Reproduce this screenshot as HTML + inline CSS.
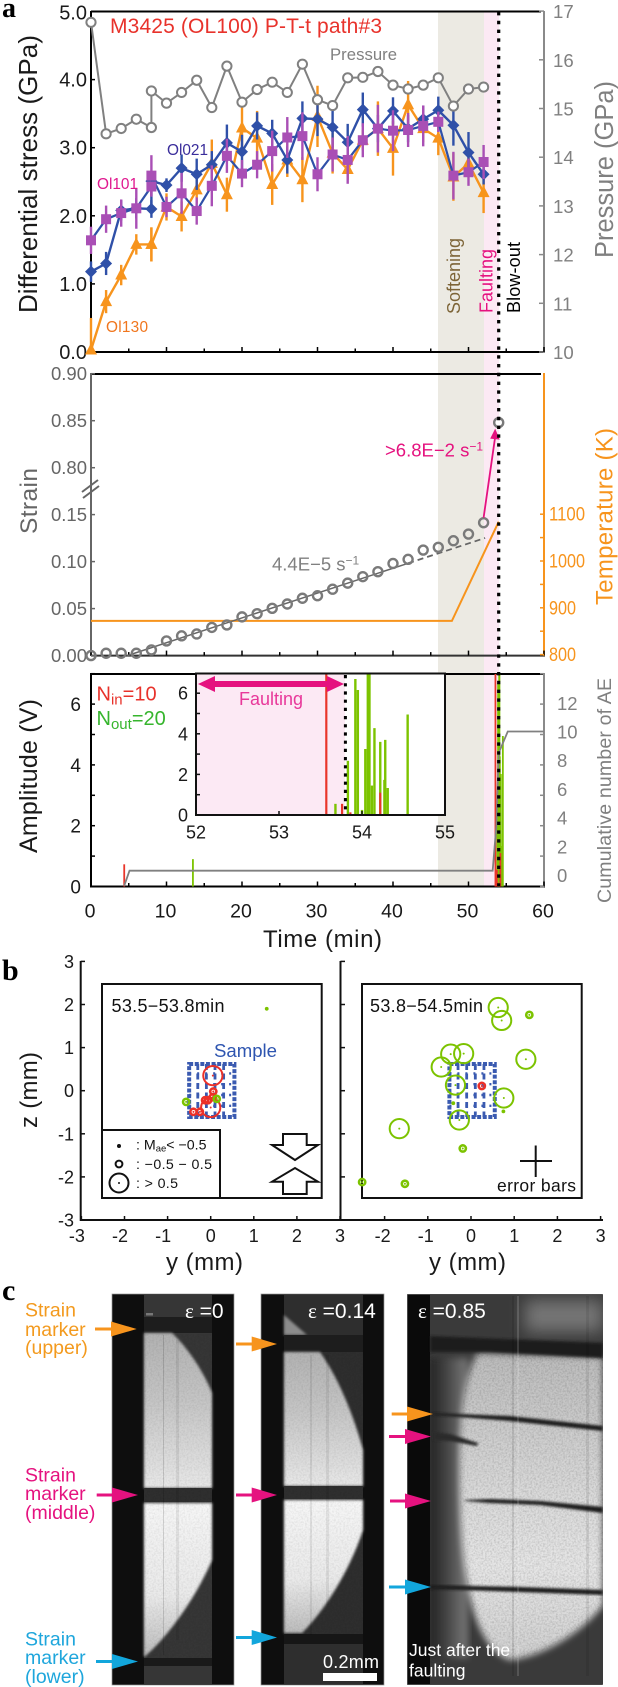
<!DOCTYPE html>
<html lang="en">
<head>
<meta charset="utf-8">
<title>M3425 P-T-t path and AE figure</title>
<style>
html,body{margin:0;padding:0;background:#fff;}
svg{display:block;font-family:"Liberation Sans",sans-serif;}
</style>
</head>
<body>
<svg id="fig" xmlns="http://www.w3.org/2000/svg" width="618" height="1687" viewBox="0 0 618 1687">
<defs>
  <linearGradient id="g1u" x1="0" y1="0" x2="0" y2="1"><stop offset="0" stop-color="#b2b2b2"/><stop offset=".45" stop-color="#c6c6c6"/><stop offset="1" stop-color="#e8e8e8"/></linearGradient>
  <linearGradient id="g1l" x1="0" y1="0" x2="0" y2="1"><stop offset="0" stop-color="#f6f6f6"/><stop offset=".6" stop-color="#eaeaea"/><stop offset="1" stop-color="#bcbcbc"/></linearGradient>
  <linearGradient id="g3" x1="0" y1="0" x2="0" y2="1"><stop offset="0" stop-color="#bcbcbc"/><stop offset=".45" stop-color="#dadada"/><stop offset=".7" stop-color="#e6e6e6"/><stop offset="1" stop-color="#d0d0d0"/></linearGradient>
  <linearGradient id="g3l" x1="0" y1="0" x2="1" y2="0"><stop offset="0" stop-color="#202020"/><stop offset=".5" stop-color="#4a4a4a"/><stop offset="1" stop-color="#7a7a7a"/></linearGradient>
  <filter id="soft" x="-10%" y="-10%" width="120%" height="120%"><feGaussianBlur stdDeviation="1.2"/></filter>
  <filter id="softer" x="-10%" y="-10%" width="120%" height="120%"><feGaussianBlur stdDeviation="3.5"/></filter>
  <filter id="softest" x="-30%" y="-60%" width="160%" height="220%"><feGaussianBlur stdDeviation="8"/></filter>
  <filter id="grain" x="0" y="0" width="100%" height="100%"><feTurbulence type="fractalNoise" baseFrequency=".55" numOctaves="2" seed="4"/><feColorMatrix type="matrix" values="0 0 0 0 0  0 0 0 0 0  0 0 0 0 0  1.5 0 0 0 -.55"/></filter>
  <clipPath id="clip-inset"><rect x="196" y="673" width="249" height="142"/></clipPath>
  <clipPath id="clip-amp"><rect x="91" y="674" width="453" height="213"/></clipPath>
  <clipPath id="clip-image-3"><rect x="407" y="1294" width="196" height="391"/></clipPath>
  <clipPath id="clip-core"><path d="M478,1353 L603,1357 L603,1605 C580,1635 540,1657 510,1660 C480,1650 462,1600 460,1500 C458,1430 462,1375 478,1353 Z"/></clipPath>
</defs>

<g id="shades">
  <rect x="438" y="11" width="46" height="875" fill="#eceae3"/>
  <rect x="484" y="11" width="15" height="875" fill="#fce9f4"/>
</g>

<!-- PANEL A -->
<g id="panel-a">
  <line x1="91" y1="11.5" x2="541" y2="11.5" stroke="#000" stroke-width="2"/>
  <line x1="91" y1="11" x2="91" y2="353" stroke="#000" stroke-width="2"/>
  <line x1="90" y1="352" x2="545" y2="352" stroke="#000" stroke-width="2"/>
  <line x1="544" y1="11" x2="544" y2="353" stroke="#8a8a8a" stroke-width="2"/>
</g>
<text x="2" y="17" font-family="Liberation Serif, serif" font-weight="bold" font-size="28">a</text>
<text x="110" y="33" font-size="21" fill="#e8322b" textLength="272">M3425 (OL100) P-T-t path#3</text>
<text x="330" y="60" font-size="16.7" fill="#808080" textLength="67">Pressure</text>
<text x="167" y="155" font-size="15.4" fill="#3a2d9b" textLength="41">Ol021</text>
<text x="97" y="189" font-size="15.4" fill="#e0188f" textLength="41">Ol101</text>
<text x="106" y="332" font-size="15.4" fill="#f0761e" textLength="42">Ol130</text>
<text transform="translate(460,314) rotate(-90)" font-size="18" fill="#7d6437" textLength="76">Softening</text>
<text transform="translate(492.5,313) rotate(-90)" font-size="18" fill="#e5127f" textLength="64">Faulting</text>
<text transform="translate(520,313) rotate(-90)" font-size="18" fill="#000" textLength="71">Blow-out</text>
<text transform="translate(37,313) rotate(-90)" font-size="26" fill="#1a1a1a" textLength="278">Differential stress (GPa)</text>
<text transform="translate(613,258) rotate(-90)" font-size="25.5" fill="#808080" textLength="177">Pressure (GPa)</text>

<!-- PANEL STRAIN -->
<g id="panel-strain">
  <line x1="91" y1="374" x2="541" y2="374" stroke="#000" stroke-width="2"/>
  <line x1="91" y1="373" x2="91" y2="656" stroke="#666" stroke-width="2"/>
  <line x1="91" y1="655.6" x2="545" y2="655.6" stroke="#333" stroke-width="2"/>
  <line x1="544" y1="373" x2="544" y2="656" stroke="#f7941d" stroke-width="2"/>
  <line x1="82" y1="492" x2="98" y2="480" stroke="#666" stroke-width="2"/>
  <line x1="83" y1="498" x2="99" y2="486" stroke="#666" stroke-width="2"/>
</g>
<text transform="translate(37,534) rotate(-90)" font-size="24.5" fill="#666" textLength="66">Strain</text>
<text transform="translate(612.5,605) rotate(-90)" font-size="24" fill="#f7941d" textLength="177">Temperature (K)</text>
<text x="385" y="456.5" font-size="18.5" fill="#e5127f">&gt;6.8E−2 s<tspan font-size="12" dy="-6">−1</tspan></text>
<text x="272" y="570.5" font-size="18.5" fill="#808080">4.4E−5 s<tspan font-size="12" dy="-6">−1</tspan></text>

<!-- PANEL AMPLITUDE -->
<g id="panel-amp">
  <line x1="91" y1="674" x2="544" y2="674" stroke="#000" stroke-width="2"/>
  <line x1="91" y1="673" x2="91" y2="887" stroke="#000" stroke-width="2"/>
  <line x1="90" y1="886.5" x2="545" y2="886.5" stroke="#000" stroke-width="2"/>
  <line x1="544" y1="673" x2="544" y2="887" stroke="#8a8a8a" stroke-width="2"/>
</g>
<g id="panel-inset">
  <rect x="196" y="674" width="249" height="141" fill="#fff"/>
  <rect x="197" y="674" width="148" height="141" fill="#fce9f4"/>
</g>
<rect x="196" y="673.5" width="249" height="141.5" fill="none" stroke="#111" stroke-width="2"/>
<g>
  <path d="M198,684 L215,676 L215,681 L327,681 L327,676 L344,684 L327,692 L327,687 L215,687 L215,692 Z" fill="#e5127f"/>
</g>
<text x="239" y="705" font-size="18" fill="#e8389a" textLength="64">Faulting</text>
<text x="96.5" y="700.5" font-size="20" fill="#e8322b">N<tspan font-size="15" dy="4">in</tspan><tspan dy="-4">=10</tspan></text>
<text x="96.5" y="725" font-size="20" fill="#36b52d">N<tspan font-size="15" dy="4">out</tspan><tspan dy="-4">=20</tspan></text>
<text transform="translate(37,853) rotate(-90)" font-size="25" fill="#1a1a1a" textLength="154">Amplitude (V)</text>
<text transform="translate(611,903) rotate(-90)" font-size="19.5" fill="#808080" textLength="225">Cumulative number of AE</text>
<text x="263" y="947" font-size="24" fill="#1a1a1a" textLength="119">Time (min)</text>

<line x1="498.7" y1="12" x2="498.7" y2="886" stroke="#000" stroke-width="3.2" stroke-dasharray="3.4 5.4"/>

<!-- PANEL B -->
<text x="2" y="980" font-family="Liberation Serif, serif" font-weight="bold" font-size="30">b</text>
<g id="panel-b">
  <line x1="80.7" y1="961" x2="80.7" y2="1221" stroke="#111" stroke-width="2"/>
  <line x1="80" y1="1220" x2="341" y2="1220" stroke="#111" stroke-width="2"/>
  <line x1="340.5" y1="961" x2="340.5" y2="1221" stroke="#111" stroke-width="2"/>
  <line x1="340" y1="1220" x2="603" y2="1220" stroke="#111" stroke-width="2"/>
  <rect x="102" y="984" width="219.7" height="214" fill="none" stroke="#111" stroke-width="2"/>
  <rect x="362" y="984" width="219.7" height="214" fill="none" stroke="#111" stroke-width="2"/>
  <rect x="102" y="1130" width="118" height="68" fill="#fff" stroke="#111" stroke-width="2"/>
</g>
<g id="sample-left"></g>
<g id="sample-right"></g>
<g id="events-left"></g>
<g id="events-right"></g>
<g>
  <circle cx="119" cy="1146" r="2" fill="#111"/>
  <circle cx="119" cy="1164" r="3.4" fill="none" stroke="#111" stroke-width="2"/>
  <circle cx="119" cy="1183" r="9.5" fill="none" stroke="#111" stroke-width="2"/>
  <circle cx="119" cy="1183" r="1" fill="#111"/>
  <text x="136" y="1149.5" font-size="14.2" fill="#111">: M<tspan font-size="9.5" dy="2">ae</tspan><tspan dy="-2">&lt; −0.5</tspan></text>
  <text x="136" y="1169" font-size="14.2" fill="#111" textLength="76">: −0.5 − 0.5</text>
  <text x="136" y="1188" font-size="14.2" fill="#111" textLength="42">: &gt; 0.5</text>
</g>
<text x="111.5" y="1012" font-size="18" fill="#111" textLength="113">53.5−53.8min</text>
<text x="370" y="1012" font-size="18" fill="#111" textLength="113">53.8−54.5min</text>
<text x="214" y="1057" font-size="18.6" fill="#2e55b0" textLength="63">Sample</text>
<path d="M283,1134 L306.7,1134 L306.7,1145 L318,1145 L295,1160 L272,1145 L283,1145 Z" fill="#fff" stroke="#111" stroke-width="2"/>
<path d="M283,1194 L306.7,1194 L306.7,1181.7 L318,1181.7 L295,1168 L272,1181.7 L283,1181.7 Z" fill="#fff" stroke="#111" stroke-width="2"/>
<line x1="520" y1="1161" x2="552" y2="1161" stroke="#111" stroke-width="2"/>
<line x1="535.7" y1="1145.5" x2="535.7" y2="1177" stroke="#111" stroke-width="2"/>
<text x="497" y="1191.5" font-size="17.5" fill="#111" textLength="79">error bars</text>
<text transform="translate(37,1128) rotate(-90)" font-size="24" fill="#1a1a1a" textLength="76">z (mm)</text>
<text x="166" y="1270" font-size="24" fill="#1a1a1a" textLength="77">y (mm)</text>
<text x="429" y="1270" font-size="24" fill="#1a1a1a" textLength="77">y (mm)</text>

<!-- PANEL C -->
<text x="2" y="1300" font-family="Liberation Serif, serif" font-weight="bold" font-size="30">c</text>

<g>
  <rect x="112" y="1294" width="122" height="391" fill="#0e0e0e" stroke="#999" stroke-width=".7"/>
  <rect x="144" y="1295" width="68" height="389" fill="#363636"/>
  <rect x="144" y="1317" width="68" height="16" fill="#1d1d1d"/>
  <path filter="url(#soft)" d="M144,1333 L172,1333 C190,1350 205,1375 212,1393 L212,1488 L144,1488 Z" fill="url(#g1u)"/>
  <path filter="url(#soft)" d="M144,1503 L212,1503 L212,1560 C195,1600 165,1640 144,1657 Z" fill="url(#g1l)"/>
  <rect x="144" y="1488" width="68" height="14" fill="#2f2f2f"/>
  <rect x="144" y="1658" width="68" height="8" fill="#1a1a1a"/>
  <rect x="163" y="1335" width="1" height="320" fill="#000" opacity=".14"/>
  <rect x="176" y="1340" width="3" height="300" fill="#000" opacity=".07"/>
  <rect x="146" y="1313" width="7" height="2.5" fill="#777"/>
</g>
<g>
  <rect x="261" y="1294" width="123" height="391" fill="#0e0e0e" stroke="#999" stroke-width=".7"/>
  <rect x="284" y="1295" width="79" height="389" fill="#2e2e2e"/>
  <path filter="url(#soft)" d="M284,1315 L307,1335 L284,1335 Z" fill="#8c8c8c"/>
  <rect x="284" y="1335" width="79" height="17" fill="#1d1d1d"/>
  <path filter="url(#soft)" d="M284,1352 L320,1352 C340,1380 355,1420 363,1450 L363,1486 L284,1486 Z" fill="url(#g1u)"/>
  <path filter="url(#soft)" d="M284,1500 L363,1500 L363,1530 C350,1570 325,1610 302,1633 L284,1633 Z" fill="url(#g1l)"/>
  <rect x="284" y="1486" width="79" height="13" fill="#2f2f2f"/>
  <rect x="284" y="1634" width="79" height="10" fill="#161616"/>
  <rect x="310" y="1355" width="2" height="280" fill="#000" opacity=".08"/>
  <rect x="326" y="1355" width="3" height="250" fill="#000" opacity=".07"/>
</g>
<g clip-path="url(#clip-image-3)">
  <rect x="407" y="1294" width="196" height="391" fill="#1a1a1a" stroke="#999" stroke-width=".7"/>
  <rect x="430" y="1295" width="173" height="389" fill="#3a3a3a"/>
  <rect filter="url(#softest)" x="525" y="1300" width="78" height="32" fill="#747474"/>
  <rect filter="url(#softer)" x="430" y="1358" width="38" height="300" fill="url(#g3l)"/>
  <path filter="url(#softer)" d="M478,1353 L603,1357 L603,1605 C580,1635 540,1657 510,1660 C480,1650 462,1600 460,1500 C458,1430 462,1375 478,1353 Z" fill="url(#g3)"/>
  <rect x="408" y="1295" width="22" height="389" fill="#0a0a0a"/>
  <path filter="url(#soft)" d="M430,1336 L603,1343 L603,1358 L490,1352 L430,1352 Z" fill="#1e1e1e"/>
  <path filter="url(#soft)" d="M433,1413 L510,1416 L603,1426 L603,1431 L510,1421 L433,1415 Z" fill="#1a1a1a"/>
  <path filter="url(#soft)" d="M433,1432 L450,1434 L478,1443 L477,1446 L450,1441 L433,1440 Z" fill="#2a2a2a"/>
  <path filter="url(#soft)" d="M465,1500 L490,1499 L540,1501 L603,1507 L603,1513 L540,1505 L490,1503 L465,1501 Z" fill="#1a1a1a"/>
  <path filter="url(#soft)" d="M430,1585 L520,1587 L603,1590 L603,1595 L520,1592 L430,1589 Z" fill="#1a1a1a"/>
  <rect x="517" y="1296" width="2" height="380" fill="#fff" opacity=".14"/>
  <rect x="512" y="1296" width="2" height="380" fill="#000" opacity=".1"/>
  <rect x="586" y="1296" width="3" height="380" fill="#000" opacity=".08"/>
</g>
<rect x="144" y="1334" width="68" height="324" filter="url(#grain)" opacity=".1"/>
<rect x="284" y="1352" width="79" height="282" filter="url(#grain)" opacity=".1"/>
<g clip-path="url(#clip-core)">
  <rect x="455" y="1352" width="148" height="310" filter="url(#grain)" opacity=".2"/>
</g>

<g>
  <text font-size="19.5" fill="#f39a1e"><tspan x="25" y="1316.5">Strain</tspan><tspan x="25" y="1336">marker</tspan><tspan x="25" y="1354">(upper)</tspan></text>
  <text font-size="19.5" fill="#e5127f"><tspan x="25" y="1481.5">Strain</tspan><tspan x="25" y="1500">marker</tspan><tspan x="25" y="1519">(middle)</tspan></text>
  <text font-size="19.5" fill="#1ea6dc"><tspan x="25" y="1645.5">Strain</tspan><tspan x="25" y="1664">marker</tspan><tspan x="25" y="1683">(lower)</tspan></text>
</g>
<g>
  <path d="M95,1327.5 H111 V1321.5 L136.7,1329 L111,1336.5 V1330.5 H95 Z" fill="#f7941d"/>
  <path d="M96.7,1493.5 H112 V1487.5 L138,1495 L112,1502.5 V1496.5 H96.7 Z" fill="#e5127f"/>
  <path d="M96,1660 H112 V1654 L138,1661.5 L112,1669 V1663 H96 Z" fill="#12a6dc"/>
  <path d="M236,1342.5 H251.7 V1336.5 L277,1344 L251.7,1351.5 V1345.5 H236 Z" fill="#f7941d"/>
  <path d="M236,1493.5 H251.7 V1487.5 L277,1495 L251.7,1502.5 V1496.5 H236 Z" fill="#e5127f"/>
  <path d="M236,1636 H251.7 V1630 L277,1637.5 L251.7,1645 V1639 H236 Z" fill="#12a6dc"/>
  <path d="M391.7,1412.5 H407 V1406.5 L433,1414 L407,1421.5 V1415.5 H391.7 Z" fill="#f7941d"/>
  <path d="M389,1435 H405 V1429 L431,1436.5 L405,1444 V1438 H389 Z" fill="#e5127f"/>
  <path d="M390,1499.5 H405 V1493.5 L431,1501 L405,1508.5 V1502.5 H390 Z" fill="#e5127f"/>
  <path d="M389,1585.5 H405 V1579.5 L431,1587 L405,1594.5 V1588.5 H389 Z" fill="#12a6dc"/>
</g>
<text x="185" y="1318" font-size="21" fill="#fff"><tspan font-family="Liberation Serif, serif">ε</tspan> =0</text>
<text x="308" y="1318" font-size="21" fill="#fff"><tspan font-family="Liberation Serif, serif">ε</tspan> =0.14</text>
<text x="418" y="1318" font-size="21" fill="#fff"><tspan font-family="Liberation Serif, serif">ε</tspan> =0.85</text>
<text x="323" y="1668" font-size="18" fill="#fff" textLength="56">0.2mm</text>
<rect x="323" y="1673" width="54" height="8" fill="#fff"/>
<text font-size="17.5" fill="#fff"><tspan x="409" y="1656">Just after the</tspan><tspan x="409" y="1676.5">faulting</tspan></text>

<script>
// ---------- Panel a data ----------
const times = [0,2,4,6,8,8,10,12,14,16,18,20,22,24,26,28,30,32,34,36,38,40,42,44,46,48,50,52];
const stressOl021 = [1.18,1.30,2.08,2.11,2.10,2.51,2.45,2.70,2.61,2.75,3.07,2.94,3.32,3.21,2.82,3.43,3.42,3.30,3.08,3.56,3.28,3.54,3.28,3.42,3.55,3.33,2.93,2.61];
const errOl021 = [.15,.17,.15,.15,.13,.1,.1,.2,.23,.2,.27,.25,.2,.2,.2,.25,.25,.3,.27,.25,.2,.2,.2,.2,.2,.3,.3,.15];
const stressOl130 = [.03,.74,1.13,1.58,1.58,1.58,2.13,1.99,2.38,2.77,2.31,3.29,3.14,2.46,2.82,2.53,3.46,2.92,2.68,3.11,3.28,2.99,3.63,3.28,3.14,2.57,2.77,2.34];
const errOl130 = [.47,.17,.15,.15,.25,.25,.2,.22,.2,.35,.25,.35,.4,.3,.25,.33,.45,.3,.15,.15,.4,.4,.35,.2,.25,.35,.15,.3];
const stressOl101 = [1.64,1.95,2.04,2.11,2.43,2.59,2.13,2.33,2.07,2.44,2.88,2.62,2.75,2.95,3.15,3.17,2.61,2.90,2.82,3.11,3.28,3.25,3.26,3.32,3.38,2.59,2.64,2.79];
const errOl101 = [.2,.2,.2,.3,.15,.3,.15,.3,.2,.3,.25,.2,.2,.3,.3,.35,.25,.25,.35,.25,.35,.3,.25,.3,.15,.35,.2,.25];
const pressure = [16.77,14.48,14.59,14.78,14.61,15.36,15.11,15.33,15.58,15.02,15.87,15.13,15.39,15.54,15.33,15.91,15.18,15.06,15.63,15.64,15.76,15.48,15.40,15.48,15.63,15.05,15.40,15.44];
const stressTicks = ['0.0','1.0','2.0','3.0','4.0','5.0'];
const pressureTicks = ['10','11','12','13','14','15','16','17'];
const timeTicks = [0,5,10,15,20,25,30,35,40,45,50,55,60];
const timeTickLabels = ['0','10','20','30','40','50','60'];

// ---------- Strain panel data ----------
const strainTimes = [0,2,4,6,8,10,12,14,16,18,20,22,24,26,28,30,32,34,36,38,40,42,44,46,48,50,52,54];
const strainValues = [0,.0025,.0025,.0025,.006,.0156,.021,.023,.030,.0326,.0412,.0446,.0503,.0549,.061,.0637,.0706,.0771,.084,.0893,.098,.1024,.1123,.1152,.1222,.1293,.1414,.848];
const fitRatePerSecond = [4.4e-5];
const fitStartMin = [4.8];
const fitSolidEndMin = [42];
const fitDashEndMin = [52.2];
const strainTicks = ['0.00','0.05','0.10','0.15','0.80','0.85','0.90'];
const tempTimes = [0,47.8,54];
const tempValues = [872,872,1084];
const tempTickValues = [800,850,900,950,1000,1050,1100];
const tempTickLabels = ['800','900','1000','1100'];

// ---------- AE data ----------
const redEventTimes = [4.4,53.57,53.76,53.86,54.22];
const redEventAmps = [.73,7,.55,.13,1.1];
const greenEventTimes = [13.5,53.68,53.83,53.92,53.95,54.0,54.04,54.07,54.09,54.12,54.15,54.22,54.27,54.28,54.31,54.55];
const greenEventAmps = [.9,.55,2.67,6.7,6.16,.25,3.25,7,7,1.45,4.28,3.6,1.73,3.7,1.33,4.95];
const cumTimes = [4.4,5.1,53.2,53.7,54.0,55.2,60];
const cumCounts = [-.75,.3,.3,3.5,8.5,10,10];
const ampTickLabels = ['0','2','4','6'];
const cumTickLabels = ['0','2','4','6','8','10','12'];
const insetTimeLabels = ['52','53','54','55'];

// ---------- Location data (y mm, z mm, magnitude class) ----------
const leftEventY = [.05,0,.06,-.06,-.13,-.4,-.25,.05,-.57,.14,1.3];
const leftEventZ = [.35,-.39,-.02,-.22,-.22,-.49,-.49,-.15,-.26,-.19,1.9];
const leftEventClass = [2,2,1,1,1,1,1,1,1,1,0];
const leftEventColor = ['r','r','r','r','r','r','r','r','g','g','g'];
const rightEventY = [.63,.71,-.47,-.17,-.69,1.27,-.36,.76,-.27,-1.66,1.35,-.19,-2.52,-1.53,.75,-.41,.25];
const rightEventZ = [1.93,1.63,.85,.86,.55,.73,.13,-.17,-.68,-.88,1.76,-1.34,-2.12,-2.16,-.48,-.29,.11];
const rightEventClass = [2,2,2,2,2,2,2,2,2,2,1,1,1,1,0,0,1];
const rightEventColor = ['g','g','g','g','g','g','g','g','g','g','g','g','g','g','g','g','r'];
const locationTicks = [-3,-2,-1,0,1,2,3];
const sampleYRange = [-.5,.55];
const sampleZRange = [-.61,.62];
const sampleColumns = [-.3,-.1,.1,.3];
const sampleRows = [-.35,-.1,.15,.4];

// ---------- Scales ----------
const xT = t => 91 + t * 7.55;
const yS = s => 352 - s * 68.1;
const yP = p => 352 - (p - 10) * 48.7;
const yStrain = v => v <= 0.15 ? 655.6 - v * 940 : 467.7 - (v - 0.8) * 940;
const yTemp = k => 654.6 - (k - 800) * 0.468;
const yAmp = v => 886.5 - v * 30.4;
const yCum = n => 875 - n * 14.35;
const xIn = t => 196 + (t - 52) * 83;
const yIn = v => 815 - v * 20.3;
const xBL = v => 210.7 + v * 43.1;
const xBR = v => 471 + v * 43.2;
const yB = v => 1090.7 - v * 43.1;

const NS = 'http://www.w3.org/2000/svg';
function mk(parent, tag, attrs, txt) {
  const el = document.createElementNS(NS, tag);
  for (const k in attrs) el.setAttribute(k, attrs[k]);
  if (txt !== undefined) el.textContent = txt;
  parent.appendChild(el);
  return el;
}
const panelA = document.getElementById('panel-a');
const panelS = document.getElementById('panel-strain');
const panelAmp = document.getElementById('panel-amp');
const panelIn = document.getElementById('panel-inset');
const panelB = document.getElementById('panel-b');

// ---------- Panel a axes ----------
stressTicks.forEach((lab, i) => {
  const y = yS(Number(lab));
  let el = mk(panelA, 'line', {x1: 91, y1: y, x2: 95, y2: y, stroke: '#000', 'stroke-width': 1.5});
  
  
  el = mk(panelA, 'text', {x: 87, y: y + (i === 5 ? 8 : 7), 'text-anchor': 'end', 'font-size': 20, fill: '#1a1a1a'}, lab);
  
  
});
pressureTicks.forEach(lab => {
  const y = yP(Number(lab));
  let el = mk(panelA, 'line', {x1: 539, y1: y, x2: 544, y2: y, stroke: '#8a8a8a', 'stroke-width': 1.5});
  
  
  el = mk(panelA, 'text', {x: 553, y: y + 7, 'font-size': 18.6, fill: '#808080'}, lab);
  
  
});
[[panelA, 352], [panelS, 655.6], [panelAmp, 886.5]].forEach(pair => {
  timeTicks.forEach(t => {
    const el = mk(pair[0], 'line', {x1: xT(t), y1: pair[1], x2: xT(t), y2: pair[1] - (t % 10 === 0 ? 5 : 3.5), stroke: '#000', 'stroke-width': 1.5});
    
    
  });
});
timeTickLabels.forEach(lab => {
  const el = mk(panelAmp, 'text', {x: xT(Number(lab)) - 1, y: 917.5, 'text-anchor': 'middle', 'font-size': 19.5, fill: '#1a1a1a'}, lab);
  
  
});

// ---------- Panel a series ----------
function series(vals, errs, color, lw, name) {
  const g = mk(panelA, 'g', {});
  
  
  vals.forEach((v, i) => {
    const top = Math.max(0, v - errs[i]);
    const e = mk(g, 'line', {x1: xT(times[i]), x2: xT(times[i]), y1: yS(top), y2: yS(v + errs[i]), stroke: color, 'stroke-width': 2.4});
    
    
  });
  const p = mk(g, 'polyline', {points: vals.map((v, i) => xT(times[i]) + ',' + yS(v)).join(' '), fill: 'none', stroke: color, 'stroke-width': lw});
  
  
  return g;
}
const gOrange = series(stressOl130, errOl130, '#f7941d', 2.4, 'ol130');
stressOl130.forEach((v, i) => {
  const x = xT(times[i]), y = yS(v);
  const m = mk(gOrange, 'polygon', {points: `${x},${y - 7} ${x + 6},${y + 4.5} ${x - 6},${y + 4.5}`, fill: '#f7941d'});
  
  
});
const gBlue = series(stressOl021, errOl021, '#2f50a8', 2.4, 'ol021');
stressOl021.forEach((v, i) => {
  const x = xT(times[i]), y = yS(v);
  const m = mk(gBlue, 'polygon', {points: `${x},${y - 6} ${x + 6},${y} ${x},${y + 6} ${x - 6},${y}`, fill: '#2f50a8'});
  
  
});
const gPurple = series(stressOl101, errOl101, '#a94fb5', 2.2, 'ol101');
gPurple.querySelector('polyline').setAttribute('stroke', '#2f50a8');
stressOl101.forEach((v, i) => {
  const x = xT(times[i]), y = yS(v);
  const m = mk(gPurple, 'rect', {x: x - 5, y: y - 5, width: 10, height: 10, fill: '#a94fb5'});
  
  
});
const pressLine = mk(panelA, 'polyline', {points: pressure.map((p, i) => xT(times[i]) + ',' + yP(p)).join(' '), fill: 'none', stroke: '#808080', 'stroke-width': 2});


pressure.forEach((p, i) => {
  const m = mk(panelA, 'circle', {cx: xT(times[i]), cy: yP(p), r: 4.6, fill: '#fff', stroke: '#808080', 'stroke-width': 2});
  
  
});

// ---------- Strain panel ----------
strainTicks.forEach(lab => {
  const y = yStrain(Number(lab));
  let el = mk(panelS, 'line', {x1: 91, y1: y, x2: 95, y2: y, stroke: '#666', 'stroke-width': 1.5});
  
  
  el = mk(panelS, 'text', {x: 87, y: y + 6.5, 'text-anchor': 'end', 'font-size': 18.5, fill: '#666'}, lab);
  
  
});
tempTickValues.forEach(k => {
  const el = mk(panelS, 'line', {x1: 540, y1: yTemp(k), x2: 544, y2: yTemp(k), stroke: '#f7941d', 'stroke-width': 1.5});
  
  
});
tempTickLabels.forEach(lab => {
  const el = mk(panelS, 'text', {x: 549, y: yTemp(Number(lab)) + 6.5, 'font-size': 19, fill: '#f7941d', textLength: lab.length * 9, lengthAdjust: 'spacingAndGlyphs'}, lab);
  
  
});
const tempLine = mk(panelS, 'polyline', {points: tempTimes.map((t, i) => xT(t) + ',' + yTemp(tempValues[i])).join(' '), fill: 'none', stroke: '#f7941d', 'stroke-width': 2});


const fitStrain = t => fitRatePerSecond[0] * 60 * (t - fitStartMin[0]);
const fitSolid = mk(panelS, 'line', {x1: xT(fitStartMin[0]), y1: yStrain(0), x2: xT(fitSolidEndMin[0]), y2: yStrain(fitStrain(fitSolidEndMin[0])), stroke: '#666', 'stroke-width': 1.5});


const fitDash = mk(panelS, 'line', {x1: xT(fitSolidEndMin[0]), y1: yStrain(fitStrain(fitSolidEndMin[0])), x2: xT(fitDashEndMin[0]), y2: yStrain(fitStrain(fitDashEndMin[0])), stroke: '#666', 'stroke-width': 1.8, 'stroke-dasharray': '6 4'});


strainValues.forEach((v, i) => {
  const m = mk(panelS, 'circle', {cx: xT(strainTimes[i]), cy: yStrain(v), r: 4.5, fill: i === strainValues.length - 1 ? '#fff' : 'none', stroke: '#7a7a7a', 'stroke-width': 2.4});
  
  
});
const jumpFrom = strainValues.length - 2;
const ax0 = xT(strainTimes[jumpFrom]), ay0 = yStrain(strainValues[jumpFrom]) - 5;
const ax1 = xT(strainTimes[jumpFrom + 1]) - 3.5, ay1 = yStrain(strainValues[jumpFrom + 1]) + 6;
const jumpLine = mk(panelS, 'line', {x1: ax0, y1: ay0, x2: ax1, y2: ay1 + 8, stroke: '#e5127f', 'stroke-width': 1.8});


const jumpHead = mk(panelS, 'polygon', {points: `${ax1},${ay1} ${ax1 + 4.5},${ay1 + 11} ${ax1 - 5},${ay1 + 10}`, fill: '#e5127f'});



// ---------- Amplitude panel ----------
[0,1,2,3,4,5,6,7].forEach(v => {
  let el = mk(panelAmp, 'line', {x1: 91, y1: yAmp(v), x2: 95, y2: yAmp(v), stroke: '#000', 'stroke-width': 1.5});
  
  
  el = mk(panelAmp, 'line', {x1: 540, y1: yAmp(v), x2: 544, y2: yAmp(v), stroke: '#8a8a8a', 'stroke-width': 1.5});
  
  
});
ampTickLabels.forEach(lab => {
  const el = mk(panelAmp, 'text', {x: 81, y: yAmp(Number(lab)) + 7, 'text-anchor': 'end', 'font-size': 19, fill: '#1a1a1a'}, lab);
  
  
});
cumTickLabels.forEach(lab => {
  const el = mk(panelAmp, 'text', {x: 557, y: yCum(Number(lab)) + 7, 'font-size': 18.5, fill: '#808080'}, lab);
  
  
});
const clipAmp = mk(panelAmp, 'g', {'clip-path': 'url(#clip-amp)'});


greenEventTimes.forEach((t, i) => {
  const b = mk(clipAmp, 'line', {x1: xT(t), x2: xT(t), y1: yAmp(0), y2: yAmp(greenEventAmps[i]), stroke: '#7cc300', 'stroke-width': 1.8});
  
  
});
redEventTimes.forEach((t, i) => {
  const b = mk(clipAmp, 'line', {x1: xT(t), x2: xT(t), y1: yAmp(0), y2: yAmp(redEventAmps[i]), stroke: '#e9352a', 'stroke-width': 1.8});
  
  
});
const cumLine = mk(panelAmp, 'polyline', {points: cumTimes.map((t, i) => xT(t) + ',' + yCum(cumCounts[i])).join(' '), fill: 'none', stroke: '#808080', 'stroke-width': 1.8});



// ---------- Inset ----------
const clipIn = mk(panelIn, 'g', {'clip-path': 'url(#clip-inset)'});


greenEventTimes.forEach((t, i) => {
  if (t < 52) return;
  const b = mk(clipIn, 'line', {x1: xIn(t), x2: xIn(t), y1: yIn(0), y2: yIn(greenEventAmps[i]), stroke: '#7cc300', 'stroke-width': 2.4});
  
  
});
redEventTimes.forEach((t, i) => {
  if (t < 52) return;
  const b = mk(clipIn, 'line', {x1: xIn(t), x2: xIn(t), y1: yIn(0), y2: yIn(redEventAmps[i]), stroke: '#e9352a', 'stroke-width': 2.2});
  
  
});
const inDot = mk(panelIn, 'line', {x1: xIn(53.8), x2: xIn(53.8), y1: 675, y2: 815, stroke: '#000', 'stroke-width': 3, 'stroke-dasharray': '3.2 5'});


[1,2,3,4,5,6].forEach(v => {
  const el = mk(panelIn, 'line', {x1: 196, x2: 200, y1: yIn(v), y2: yIn(v), stroke: '#111', 'stroke-width': 1.5});
  
  
});
['0','2','4','6'].forEach(lab => {
  const el = mk(panelIn, 'text', {x: 188, y: yIn(Number(lab)) + 6.5, 'text-anchor': 'end', 'font-size': 18, fill: '#1a1a1a'}, lab);
  
  
});
insetTimeLabels.forEach(lab => {
  const x = xIn(Number(lab));
  let el = mk(panelIn, 'line', {x1: x, x2: x, y1: 815, y2: 811, stroke: '#111', 'stroke-width': 1.5});
  
  
  el = mk(panelIn, 'text', {x: x, y: 838.5, 'text-anchor': 'middle', 'font-size': 18, fill: '#1a1a1a'}, lab);
  
  
});

// ---------- Location axes ----------
locationTicks.forEach(v => {
  const lab = String(v);
  let el = mk(panelB, 'line', {x1: 80.7, x2: 85, y1: yB(v), y2: yB(v), stroke: '#111', 'stroke-width': 1.5});
  
  
  el = mk(panelB, 'line', {x1: 340.5, x2: 345, y1: yB(v), y2: yB(v), stroke: '#111', 'stroke-width': 1.5});
  
  
  el = mk(panelB, 'text', {x: 74, y: yB(v) + 6.5, 'text-anchor': 'end', 'font-size': 18, fill: '#1a1a1a'}, lab);
  
  
  el = mk(panelB, 'line', {x1: xBL(v), x2: xBL(v), y1: 1220, y2: 1216, stroke: '#111', 'stroke-width': 1.5});
  
  
  el = mk(panelB, 'text', {x: xBL(v) - (v < 0 ? 4.5 : 0), y: 1242, 'text-anchor': 'middle', 'font-size': 18, fill: '#1a1a1a'}, lab);
  
  
  if (v > -3) {
    el = mk(panelB, 'line', {x1: xBR(v), x2: xBR(v), y1: 1220, y2: 1216, stroke: '#111', 'stroke-width': 1.5});
    
    
    el = mk(panelB, 'text', {x: xBR(v) - (v < 0 ? 2 : 0), y: 1242, 'text-anchor': 'middle', 'font-size': 18, fill: '#1a1a1a'}, lab);
    
    
  }
});

// ---------- Sample grids ----------
function sampleGrid(host, xf) {
  const x0 = xf(sampleYRange[0]), x1 = xf(sampleYRange[1]);
  const y0 = yB(sampleZRange[1]), y1 = yB(sampleZRange[0]);
  const fr = mk(host, 'rect', {x: x0, y: y0, width: x1 - x0, height: y1 - y0, fill: 'none', stroke: '#3a5ab0', 'stroke-width': 4, 'stroke-dasharray': '4 1.6'});
  
  
  sampleColumns.forEach(c => {
    const l = mk(host, 'line', {x1: xf(c), x2: xf(c), y1: y0, y2: y1, stroke: '#3a5ab0', 'stroke-width': 2.8, 'stroke-dasharray': '6 3.5'});
    
    
  });
  sampleRows.forEach(r => {
    const l = mk(host, 'line', {x1: x0, x2: x1, y1: yB(r), y2: yB(r), stroke: '#3a5ab0', 'stroke-width': 2.4, 'stroke-dasharray': '2 6'});
    
    
  });
}
sampleGrid(document.getElementById('sample-left'), xBL);
sampleGrid(document.getElementById('sample-right'), xBR);

// ---------- Location events ----------
function drawEvents(host, xf, ys, zs, cls, cols) {
  ys.forEach((v, i) => {
    const color = cols[i] === 'r' ? '#ec3028' : '#7cc300';
    const x = xf(v), y = yB(zs[i]);
    const c = cls[i];
    if (c > 0) {
      const ring = mk(host, 'circle', {cx: x, cy: y, r: c === 2 ? 9.6 : 3.1, fill: 'none', stroke: color, 'stroke-width': c === 2 ? 2 : 2.6});
      
      
    }
    const dot = mk(host, 'circle', {cx: x, cy: y, r: c === 0 ? 1.9 : 1, fill: color});
    
    
  });
}
drawEvents(document.getElementById('events-left'), xBL, leftEventY, leftEventZ, leftEventClass, leftEventColor);
drawEvents(document.getElementById('events-right'), xBR, rightEventY, rightEventZ, rightEventClass, rightEventColor);
</script>
</svg>
</body>
</html>
